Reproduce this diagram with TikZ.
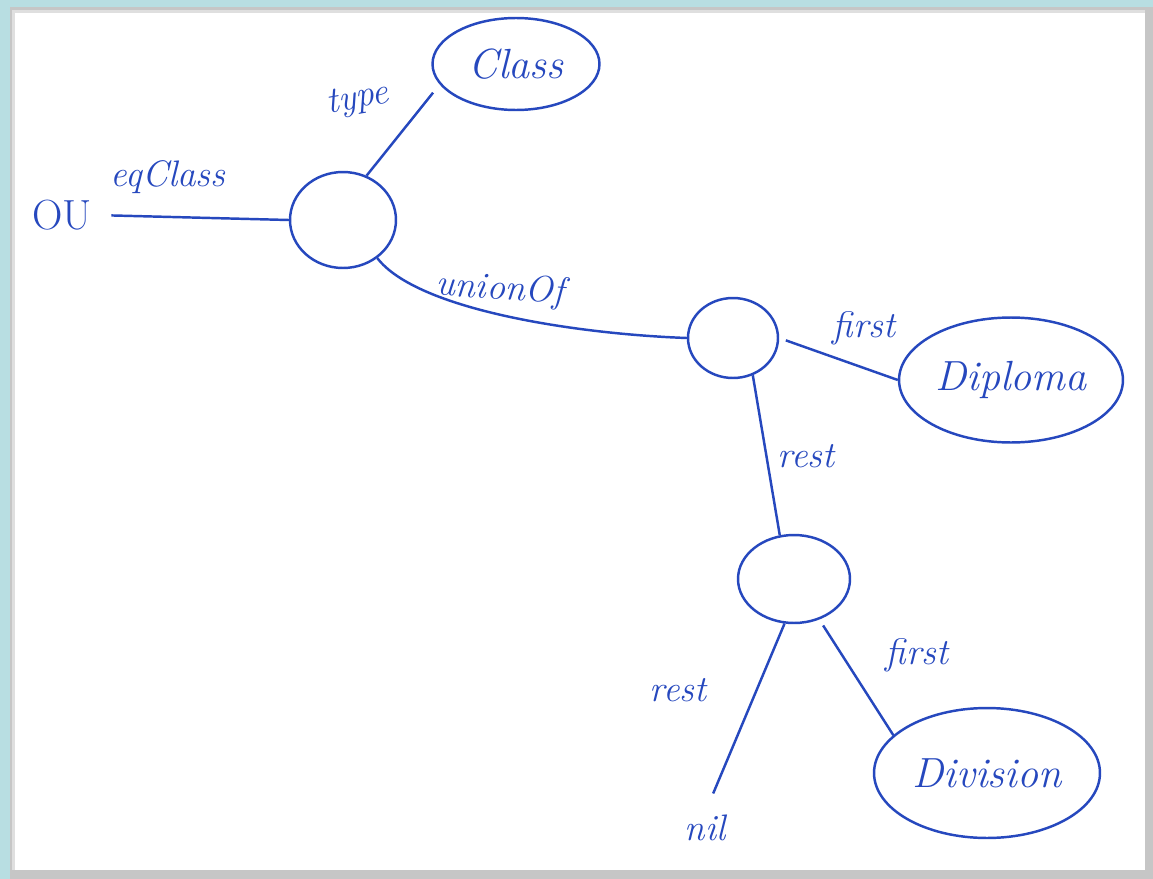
\documentclass[tikz,border=0pt]{standalone}
\usepackage{tikz}
\usetikzlibrary{shapes.geometric}
\usepackage{xcolor}
\definecolor{ink}{RGB}{38,72,190}
\definecolor{frameteal}{RGB}{184,222,226}

\begin{document}
\begin{tikzpicture}[
  x=0.02cm, y=-0.02cm,
  font=\itshape\fontsize{21}{25}\selectfont,
  line/.style={draw=ink, line width=1.4pt},
  blank/.style={ellipse, draw=ink, line width=1.4pt, inner sep=0pt},
  lit/.style={ellipse, draw=ink, line width=1.4pt, text=ink, inner sep=2pt,
              font=\itshape\fontsize{24}{28}\selectfont},
  lbl/.style={text=ink, inner sep=1pt}
]
\useasboundingbox (0,0) rectangle (1153,879);
% frame
\fill[frameteal] (0,0) rectangle (1153,879);
\fill[gray!45] (10,7) rectangle (1153,879);
\fill[white] (12,10) rectangle (1145,870);
\fill[gray!25] (12,10) rectangle (1145,13);
\fill[gray!25] (12,10) rectangle (15,870);

% nodes
\node[lbl, font=\fontsize{24}{28}\selectfont] (ou) at (62,215) {OU};
\node[blank, minimum width=2.12cm, minimum height=1.92cm] (n1) at (343,220) {};
\node[lit, minimum width=3.34cm, minimum height=1.84cm] (cls) at (516,64) {Class};
\node[blank, minimum width=1.8cm, minimum height=1.6cm] (n2) at (733,338) {};
\node[lit, minimum width=3.44cm, minimum height=2.5cm] (dip) at (1011,380) {Diploma};
\node[blank, minimum width=2.24cm, minimum height=1.76cm] (n3) at (794,579) {};
\node[lit, minimum width=4.52cm, minimum height=2.6cm] (div) at (987,773) {Division};
\node[lbl] (nil) at (705,828) {nil};

% edges
\draw[line, shorten <=10pt] (ou.east) -- (n1.west);
\draw[line, shorten >=6pt] (n1.62) -- (cls.195);
\draw[line] (n1.-48) .. controls +(40,52) and +(-110,-4) .. (n2.west);
\draw[line, shorten <=4pt] (n2.east) -- (dip.west);
\draw[line] (n2.-62) -- (n3.108);
\draw[line, shorten <=4pt] (n3.-58) -- (div.158);
\draw[line, shorten >=12pt] (n3.-102) -- (nil.north);

% labels
\node[lbl] (leq) at (168,177) {eqClass};
\node[lbl, rotate=10] (ltype) at (358,100) {type};
\node[lbl, rotate=-4] (lunion) at (500,290) {unionOf};
\node[lbl] (lfirst) at (864,328) {first};
\node[lbl] (lrest) at (806,456) {rest};
\node[lbl] (lfirst2) at (917,655) {first};
\node[lbl] (lrest2) at (678,690) {rest};
\end{tikzpicture}
\end{document}
